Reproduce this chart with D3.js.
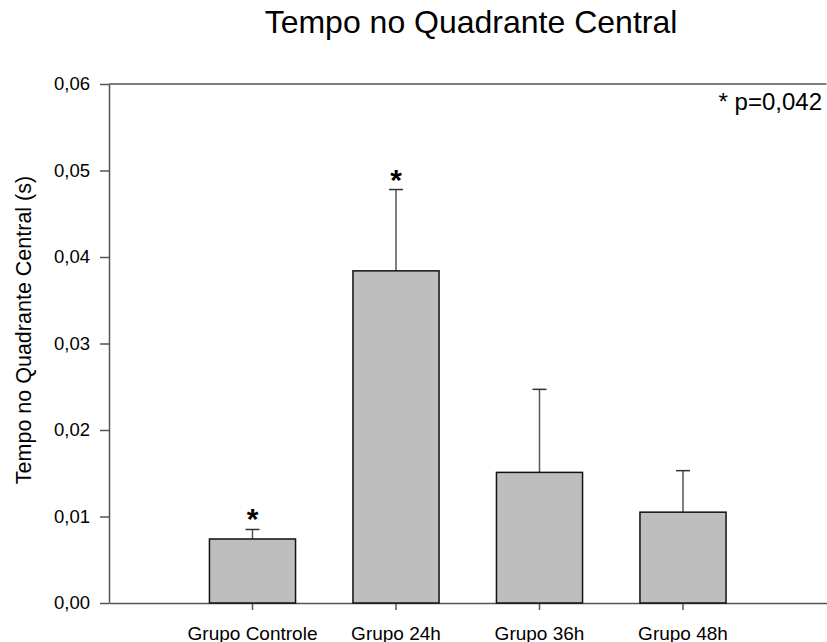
<!DOCTYPE html>
<html>
<head>
<meta charset="utf-8">
<script src="https://cdn.jsdelivr.net/npm/d3@7"></script>
<style>
  body { margin: 0; background: #fff; }
  text { font-family: "Liberation Sans", Arial, sans-serif; }
</style>
</head>
<body>
<div id="chart"></div>
<script>
// data
const categories = ["Grupo Controle", "Grupo 24h", "Grupo 36h", "Grupo 48h"];
const means = [0.0074, 0.0384, 0.0151, 0.0105];
const errors = [0.0011, 0.0094, 0.0096, 0.0048];
const significant = [true, true, false, false];
const yTicks = [0, 0.01, 0.02, 0.03, 0.04, 0.05, 0.06];

const width = 827, height = 642;
const plotLeft = 109, plotRight = 826.5, plotTop = 84, plotBottom = 603;

const svg = d3.select("#chart").append("svg")
  .attr("width", width)
  .attr("height", height);

const x = d3.scaleBand()
  .domain(categories)
  .range([plotLeft, plotRight])
  .paddingInner(0.4)
  .paddingOuter(0.7);

const y = d3.scaleLinear()
  .domain([0, 0.06])
  .range([plotBottom, plotTop]);

const fmt = d => d3.format(".2f")(d).replace(".", ",");

// title
svg.append("text")
  .attr("x", 471)
  .attr("y", 33)
  .attr("text-anchor", "middle")
  .attr("font-size", 32)
  .text("Tempo no Quadrante Central");

// axes
const yAxis = svg.append("g")
  .attr("transform", "translate(" + plotLeft + ",0)")
  .call(d3.axisLeft(y).tickValues(yTicks).tickFormat(fmt).tickSize(9).tickPadding(10).tickSizeOuter(0));
yAxis.selectAll("text").attr("font-size", 18.5).attr("fill", "#000");

const xAxis = svg.append("g")
  .attr("transform", "translate(0," + plotBottom + ")")
  .call(d3.axisBottom(x).tickSize(7).tickPadding(16.5).tickSizeOuter(0));
xAxis.selectAll("text").attr("font-size", 19).attr("fill", "#000");

svg.selectAll(".domain").attr("stroke", "#555").attr("stroke-width", 1.5);
svg.selectAll(".tick line").attr("stroke", "#555").attr("stroke-width", 1.5);

// top frame line
svg.append("line")
  .attr("x1", plotLeft).attr("x2", plotRight)
  .attr("y1", plotTop).attr("y2", plotTop)
  .attr("stroke", "#555").attr("stroke-width", 1.5);

// error bars
const cx = d => x(d) + x.bandwidth() / 2;
const g = svg.append("g");
categories.forEach(function (c, i) {
  g.append("line")
    .attr("x1", cx(c)).attr("x2", cx(c))
    .attr("y1", y(means[i])).attr("y2", y(means[i] + errors[i]))
    .attr("stroke", "#555").attr("stroke-width", 1.5);
  g.append("line")
    .attr("x1", cx(c) - 7).attr("x2", cx(c) + 7)
    .attr("y1", y(means[i] + errors[i])).attr("y2", y(means[i] + errors[i]))
    .attr("stroke", "#333").attr("stroke-width", 1.5);
});

// bars
svg.selectAll(".bar")
  .data(categories)
  .enter()
  .append("rect")
  .attr("class", "bar")
  .attr("x", d => x(d))
  .attr("width", x.bandwidth())
  .attr("y", (d, i) => y(means[i]))
  .attr("height", (d, i) => plotBottom - y(means[i]))
  .attr("fill", "#bebebe")
  .attr("stroke", "#111")
  .attr("stroke-width", 1.5);

// significance stars
categories.forEach(function (c, i) {
  if (!significant[i]) return;
  svg.append("text")
    .attr("x", cx(c))
    .attr("y", y(means[i] + errors[i]))
    .attr("text-anchor", "middle")
    .attr("font-size", 30)
    .attr("font-weight", "bold")
    .text("*");
});

// p-value note
svg.append("text")
  .attr("x", 822)
  .attr("y", 110)
  .attr("text-anchor", "end")
  .attr("font-size", 24)
  .text("* p=0,042");

// y label
svg.append("text")
  .attr("transform", "translate(31,330) rotate(-90)")
  .attr("text-anchor", "middle")
  .attr("font-size", 21.5)
  .text("Tempo no Quadrante Central (s)");
</script>
</body>
</html>
